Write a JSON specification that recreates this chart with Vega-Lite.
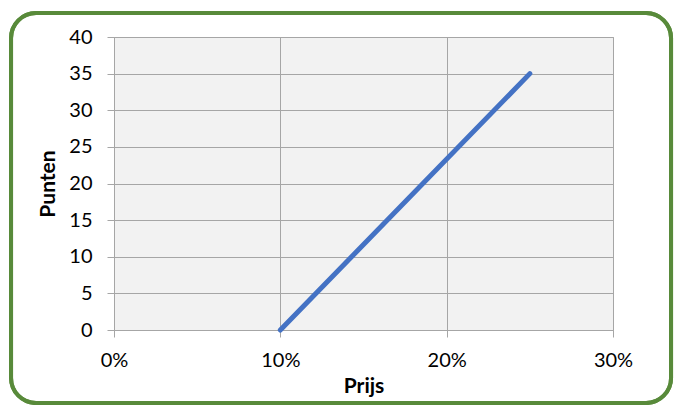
{
  "$schema": "https://vega.github.io/schema/vega-lite/v6.json",
  "autosize": {"type": "none"},
  "width": 499,
  "height": 293,
  "padding": {"left": 114, "top": 37, "right": 61, "bottom": 75},
  "background": "white",
  "config": {
    "view": {"fill": "#f2f2f2", "stroke": "#a6a6a6", "strokeWidth": 1},
    "font": "Lato",
    "axis": {
      "labelFont": "Lato",
      "labelFontSize": 20,
      "labelColor": "#000000",
      "labelOverlap": false,
      "titleFont": "Lato",
      "titleFontSize": 21,
      "titleFontWeight": "bold",
      "titleColor": "#000000",
      "grid": true,
      "gridColor": "#a6a6a6",
      "gridOpacity": 1,
      "gridWidth": 1,
      "domainColor": "#a6a6a6",
      "tickColor": "#a6a6a6",
      "tickSize": 7
    }
  },
  "data": {
    "values": [
      {"prijs": 0.10, "punten": 0},
      {"prijs": 0.25, "punten": 35}
    ]
  },
  "layer": [
    {
      "mark": {"type": "line", "color": "#4472c4", "strokeWidth": 5, "strokeCap": "round"},
      "encoding": {
        "x": {
          "field": "prijs",
          "type": "quantitative",
          "title": "Prijs",
          "scale": {"domain": [0, 0.3], "nice": false, "zero": false},
          "axis": {"values": [0, 0.1, 0.2, 0.3], "format": ".0%", "labelPadding": 13, "titlePadding": 5, "labelFlush": false}
        },
        "y": {
          "field": "punten",
          "type": "quantitative",
          "title": "Punten",
          "scale": {"domain": [0, 40], "nice": false},
          "axis": {"values": [0, 5, 10, 15, 20, 25, 30, 35, 40], "labelPadding": 15, "titlePadding": 10}
        }
      }
    },
    {
      "mark": {"type": "rect", "fill": null, "stroke": "#588a3a", "strokeWidth": 4, "cornerRadius": 25, "clip": false},
      "encoding": {
        "x": {"datum": -0.0619, "type": "quantitative", "title": "Prijs",
          "axis": {"values": [0, 0.1, 0.2, 0.3], "format": ".0%", "labelPadding": 13, "titlePadding": 5, "labelFlush": false}},
        "x2": {"datum": 0.3349},
        "y": {"datum": 43.28, "type": "quantitative", "title": "Punten",
          "axis": {"values": [0, 5, 10, 15, 20, 25, 30, 35, 40], "labelPadding": 15, "titlePadding": 10}},
        "y2": {"datum": -9.97}
      }
    }
  ]
}
